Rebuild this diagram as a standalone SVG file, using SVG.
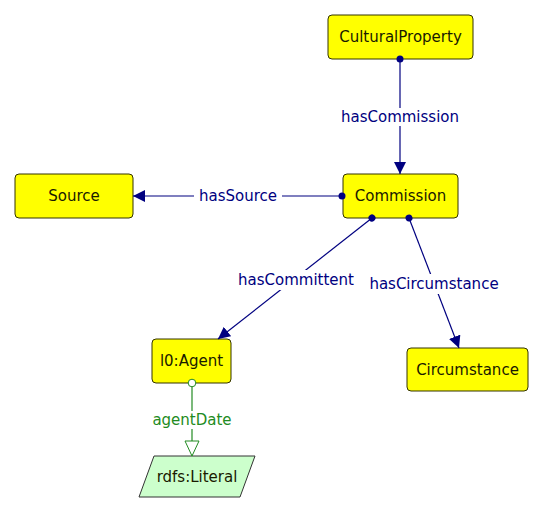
<svg xmlns="http://www.w3.org/2000/svg" width="544" height="515" viewBox="0 0 544 515">
<style>
.node rect{fill:#ffff00;stroke:#333300;stroke-width:1}
.lit polygon{fill:#ccffcc;stroke:#333333;stroke-width:1}
text{font-family:"DejaVu Sans",Verdana,sans-serif;font-size:15px;text-anchor:middle;dominant-baseline:central}
.nt{fill:#1a1a00}
.edge{stroke:#000080;stroke-width:1.2;fill:none}
.el{fill:#000080}
.lbg{fill:#ffffff}
.g{stroke:#228b22;stroke-width:1.2;fill:none}
.gl{fill:#228b22}
</style>
<defs>
<marker id="arr" viewBox="0 0 12 12" refX="12" refY="6" markerWidth="12" markerHeight="12" markerUnits="userSpaceOnUse" orient="auto">
<path d="M0,0 L12,6 L0,12 Z" fill="#000080"/>
</marker>
<marker id="dot" viewBox="0 0 8 8" refX="4" refY="4" markerWidth="8" markerHeight="8" markerUnits="userSpaceOnUse" orient="auto">
<circle cx="4" cy="4" r="3.5" fill="#000080"/>
</marker>
<marker id="odot" viewBox="0 0 10 10" refX="5" refY="5" markerWidth="10" markerHeight="10" markerUnits="userSpaceOnUse" orient="auto">
<circle cx="5" cy="5" r="3.8" fill="#ffffff" stroke="#228b22" stroke-width="1"/>
</marker>
<marker id="otri" viewBox="0 0 17 16" refX="16" refY="8" markerWidth="17" markerHeight="16" markerUnits="userSpaceOnUse" orient="auto">
<path d="M1,1 L16,8 L1,15 Z" fill="#ffffff" stroke="#228b22" stroke-width="1"/>
</marker>
</defs>
<g id="CulturalProperty" class="node">
<rect x="328" y="15" width="145" height="44" rx="4"/>
<text class="nt" x="400.5" y="37">CulturalProperty</text>
</g>
<g id="Commission" class="node">
<rect x="343" y="174" width="115" height="44" rx="4"/>
<text class="nt" x="400.5" y="196">Commission</text>
</g>
<g id="Source" class="node">
<rect x="15" y="174" width="118" height="44" rx="4"/>
<text class="nt" x="74" y="196">Source</text>
</g>
<g id="Agent" class="node">
<rect x="152" y="339" width="79" height="44" rx="4"/>
<text class="nt" x="191.5" y="361">l0:Agent</text>
</g>
<g id="Circumstance" class="node">
<rect x="407" y="348" width="121" height="43" rx="4"/>
<text class="nt" x="467.5" y="369.5">Circumstance</text>
</g>
<g id="Literal" class="lit">
<polygon points="154,456 255,456 240,497 139,497"/>
<text class="nt" x="197" y="477">rdfs:Literal</text>
</g>
<g id="connectors">
<g id="e-hasCommission">
<line class="edge" x1="400" y1="59" x2="400" y2="174" marker-start="url(#dot)" marker-end="url(#arr)"/>
<rect class="lbg" x="338" y="108" width="124" height="18"/>
<text class="el" x="400" y="117">hasCommission</text>
</g>
<g id="e-hasSource">
<line class="edge" x1="342" y1="196" x2="133" y2="196" marker-start="url(#dot)" marker-end="url(#arr)"/>
<rect class="lbg" x="194" y="187" width="88" height="18"/>
<text class="el" x="238" y="196">hasSource</text>
</g>
<g id="e-hasCommittent">
<line class="edge" x1="372" y1="218" x2="218" y2="339" marker-start="url(#dot)" marker-end="url(#arr)"/>
<rect class="lbg" x="232" y="270" width="128" height="20"/>
<text class="el" x="296" y="280">hasCommittent</text>
</g>
<g id="e-hasCircumstance">
<line class="edge" x1="409" y1="218" x2="459" y2="348" marker-start="url(#dot)" marker-end="url(#arr)"/>
<rect class="lbg" x="364" y="274" width="140" height="20"/>
<text class="el" x="434" y="284">hasCircumstance</text>
</g>
<g id="e-agentDate">
<line class="g" x1="192" y1="383" x2="192" y2="456" marker-start="url(#odot)" marker-end="url(#otri)"/>
<rect class="lbg" x="148" y="411" width="88" height="18"/>
<text class="gl" x="192" y="420">agentDate</text>
</g>
</g>
</svg>
